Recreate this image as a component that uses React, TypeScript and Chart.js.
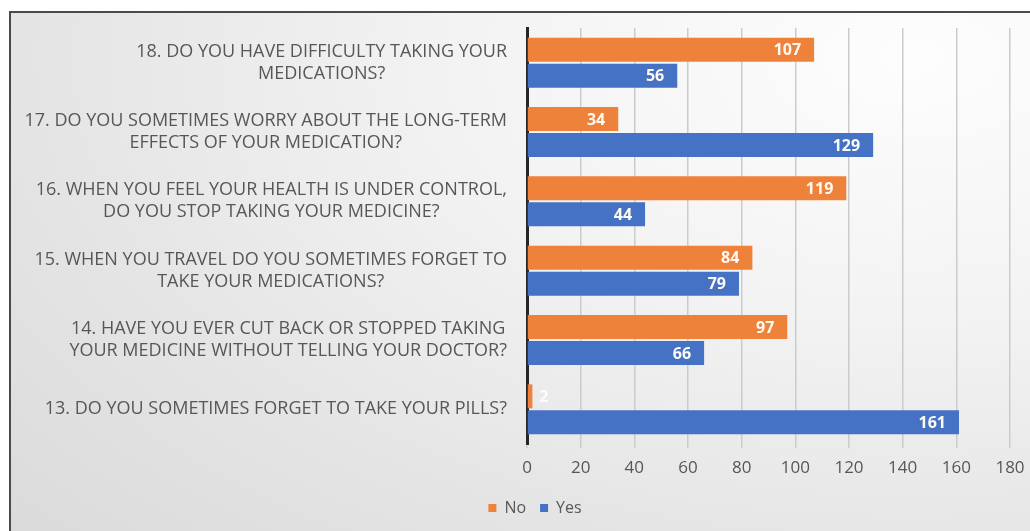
import React, { useEffect, useRef } from "react";
import { Chart, registerables } from "chart.js";

Chart.register(...registerables);

const categoryLabels: string[][] = [
  ["18. DO YOU HAVE DIFFICULTY TAKING YOUR", "MEDICATIONS?"],
  ["17. DO YOU SOMETIMES WORRY ABOUT THE LONG-TERM", "EFFECTS OF YOUR MEDICATION?"],
  ["16. WHEN YOU FEEL YOUR HEALTH IS UNDER CONTROL,", "DO YOU STOP TAKING YOUR MEDICINE?"],
  ["15. WHEN YOU TRAVEL DO YOU SOMETIMES FORGET TO", "TAKE YOUR MEDICATIONS?"],
  ["14. HAVE YOU EVER CUT BACK OR STOPPED TAKING", "YOUR MEDICINE WITHOUT TELLING YOUR DOCTOR?"],
  ["13. DO YOU SOMETIMES FORGET TO TAKE YOUR PILLS?"],
];
const noValues = [107, 34, 119, 84, 97, 2];
const yesValues = [56, 129, 44, 79, 66, 161];
const xMin = 0;
const xMax = 180;
const xStep = 20;

const FONT = "'Open Sans', sans-serif";
const TEXT_COLOR = "#575757";

const categoryLabelPlugin = {
  id: "categoryLabels",
  afterDraw(chart: any) {
    const scale = chart.scales.y;
    const ctx = chart.ctx;
    ctx.save();
    ctx.font = `18px ${FONT}`;
    ctx.fillStyle = TEXT_COLOR;
    ctx.textAlign = "center";
    ctx.textBaseline = "middle";
    const lh = 22;
    const right = scale.right - 20;
    categoryLabels.forEach((lines, i) => {
      const y = scale.getPixelForTick(i);
      const widest = Math.max(...lines.map((l) => ctx.measureText(l).width));
      const cx = right - widest / 2;
      const top = y - ((lines.length - 1) * lh) / 2;
      lines.forEach((l, j) => ctx.fillText(l, cx, top + j * lh));
    });
    ctx.restore();
  },
};

const dataLabelPlugin = {
  id: "barValueLabels",
  afterDatasetsDraw(chart: any) {
    const ctx = chart.ctx;
    ctx.save();
    ctx.font = `bold 16px ${FONT}`;
    ctx.textBaseline = "middle";
    chart.data.datasets.forEach((ds: any, di: number) => {
      const meta = chart.getDatasetMeta(di);
      meta.data.forEach((bar: any, i: number) => {
        const text = String(ds.data[i]);
        const w = ctx.measureText(text).width;
        const len = bar.x - bar.base;
        if (len > w + 20) {
          ctx.fillStyle = "#fdfaf2";
          ctx.textAlign = "right";
          ctx.fillText(text, bar.x - 13, bar.y + 1);
        } else {
          ctx.fillStyle = "rgba(255,255,255,0.85)";
          ctx.textAlign = "left";
          ctx.fillText(text, bar.x + 7, bar.y + 1);
        }
      });
    });
    ctx.restore();
  },
};

const legendShiftPlugin = {
  id: "legendShift",
  afterLayout(chart: any) {
    if (chart.legend) {
      chart.legend.left += 30;
      chart.legend.right += 30;
    }
  },
};

export default function App() {
  const canvasRef = useRef<HTMLCanvasElement>(null);

  useEffect(() => {
    if (!canvasRef.current) return;
    const chart = new Chart(canvasRef.current, {
      type: "bar",
      data: {
        labels: categoryLabels.map((l) => l.join(" ")),
        datasets: [
          {
            label: "No",
            data: noValues,
            backgroundColor: "#EF823A",
            categoryPercentage: 0.75,
            barPercentage: 0.92,
          },
          {
            label: "Yes",
            data: yesValues,
            backgroundColor: "#4672C6",
            categoryPercentage: 0.75,
            barPercentage: 0.92,
          },
        ],
      },
      options: {
        indexAxis: "y",
        animation: false,
        responsive: false,
        maintainAspectRatio: false,
        layout: { padding: { top: 28, right: 20, bottom: 5, left: 0 } },
        scales: {
          x: {
            min: xMin,
            max: xMax,
            ticks: {
              stepSize: xStep,
              color: TEXT_COLOR,
              font: { family: FONT, size: 17 },
              padding: 10,
            },
            grid: { color: "#cbcbcb", lineWidth: 1.5, tickLength: 4, drawTicks: true },
            border: { display: false },
            afterFit: (s: any) => {
              s.height = 42;
              s.paddingLeft = 0;
              s.paddingRight = 0;
            },
          },
          y: {
            ticks: { color: "rgba(0,0,0,0)", font: { family: FONT, size: 14 } },
            grid: { display: false, drawTicks: false },
            border: { display: true, color: "#262626", width: 3 },
            afterFit: (s: any) => {
              s.width = 527;
            },
          },
        },
        plugins: {
          legend: {
            position: "bottom",
            labels: {
              boxWidth: 8,
              boxHeight: 8,
              color: TEXT_COLOR,
              font: { family: FONT, size: 16 },
              padding: 14,
            },
          },
          tooltip: { enabled: false },
        },
      },
      plugins: [categoryLabelPlugin, dataLabelPlugin, legendShiftPlugin],
    });
    return () => chart.destroy();
  }, []);

  return (
    <div
      style={{
        position: "fixed",
        left: 0,
        top: 0,
        width: 1030,
        height: 531,
        overflow: "hidden",
        background: "#ffffff",
      }}
    >
      <div
        style={{
          position: "absolute",
          left: 9,
          top: 11,
          width: 1060,
          height: 560,
          border: "2px solid #4a4a4a",
          background:
            "radial-gradient(ellipse at 85% 8%, #fdfdfd 0%, #f3f3f3 35%, #e4e4e4 70%, #d9d9d9 100%)",
        }}
      />
      <canvas
        ref={canvasRef}
        width={1030}
        height={531}
        style={{ position: "absolute", left: 0, top: 0 }}
      />
    </div>
  );
}
